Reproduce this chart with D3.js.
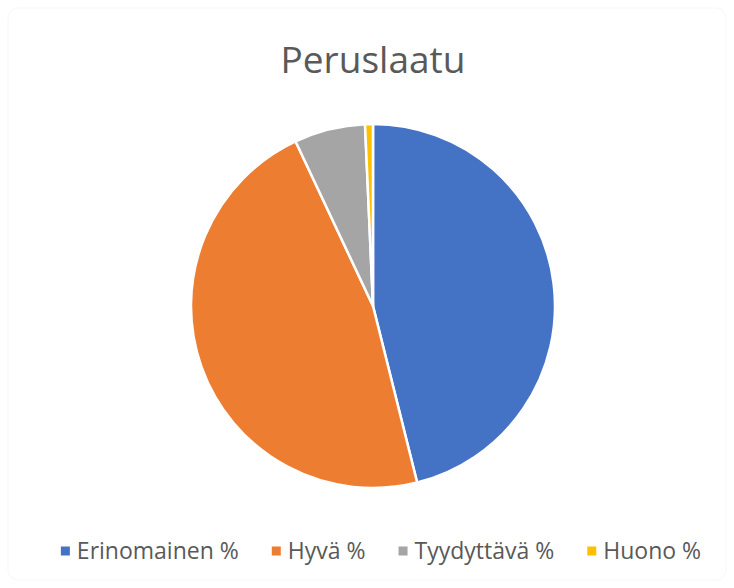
<!DOCTYPE html>
<html>
<head>
<meta charset="utf-8">
<script src="https://cdn.jsdelivr.net/npm/d3@7"></script>
<style>
  body { margin: 0; background: #fff; }
</style>
</head>
<body>
<div id="chart"></div>
<script>
// data
const title = "Peruslaatu";
const categories = ["Erinomainen %", "Hyvä %", "Tyydyttävä %", "Huono %"];
const values = [46.1, 46.9, 6.3, 0.7];
const colors = ["#4472C4", "#ED7D31", "#A5A5A5", "#FFC000"];

const width = 734, height = 588;
const cx = 373, cy = 306, radius = 182;

const svg = d3.select("#chart")
  .append("svg")
  .attr("width", width)
  .attr("height", height)
  .style("font-family", "'Open Sans', 'Noto Sans', sans-serif");

// faint chart frame
svg.append("rect")
  .attr("x", 8).attr("y", 8)
  .attr("width", width - 16).attr("height", height - 16)
  .attr("rx", 10)
  .attr("fill", "none")
  .attr("stroke", "#f7f7f7");

svg.append("text")
  .attr("x", cx)
  .attr("y", 73)
  .attr("text-anchor", "middle")
  .attr("font-size", 37)
  .attr("fill", "#595959")
  .text(title);

const data = categories.map((c, i) => ({ name: c, value: values[i], color: colors[i] }));

const pie = d3.pie()
  .value(d => d.value)
  .sort(null);

const arc = d3.arc()
  .innerRadius(0)
  .outerRadius(radius);

svg.append("g")
  .attr("transform", `translate(${cx},${cy})`)
  .selectAll("path")
  .data(pie(data))
  .join("path")
  .attr("d", arc)
  .attr("fill", d => d.data.color)
  .attr("stroke", "#fff")
  .attr("stroke-width", 2.5)
  .attr("stroke-linejoin", "round");

// legend
const legendY = 551;
const fontSize = 23;
const markerSize = 9;
const markerGap = 7;
const itemGap = 33;

const legend = svg.append("g");
const items = legend.selectAll("g")
  .data(data)
  .join("g");

items.append("rect")
  .attr("width", markerSize)
  .attr("height", markerSize)
  .attr("y", legendY - markerSize / 2)
  .attr("fill", d => d.color);

items.append("text")
  .attr("y", legendY)
  .attr("dy", "0.35em")
  .attr("font-size", fontSize)
  .attr("fill", "#595959")
  .text(d => d.name);

// lay the items out side by side, centred
let xPos = 0;
const offsets = [];
items.each(function () {
  const w = d3.select(this).select("text").node().getComputedTextLength();
  offsets.push(xPos);
  xPos += markerSize + markerGap + w + itemGap;
});
const total = xPos - itemGap;
const startX = 381 - total / 2;

items.each(function (d, i) {
  const g = d3.select(this);
  g.select("rect").attr("x", startX + offsets[i]);
  g.select("text").attr("x", startX + offsets[i] + markerSize + markerGap);
});
</script>
</body>
</html>
